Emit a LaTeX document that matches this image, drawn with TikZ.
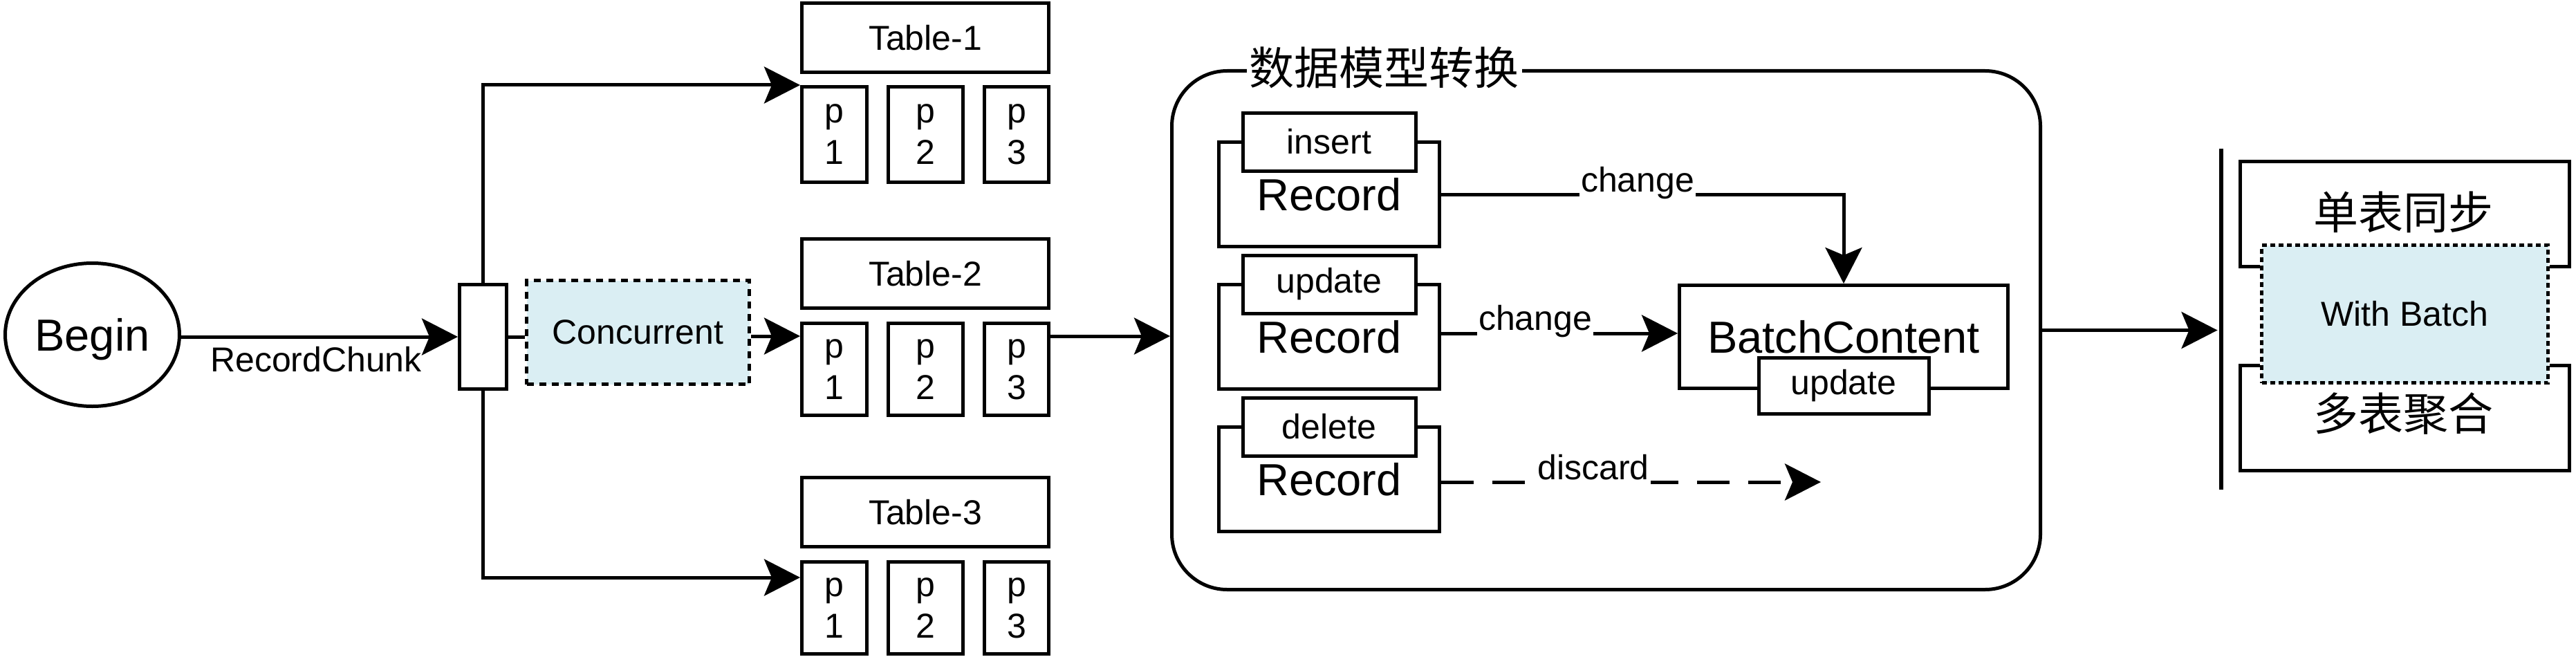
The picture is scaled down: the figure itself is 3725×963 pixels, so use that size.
\documentclass[tikz,border=0pt]{standalone}
\usepackage{fontspec}
\setmainfont{Liberation Sans}
\newfontfamily\cjkfont{Noto Sans CJK SC}
\usetikzlibrary{arrows.meta,shapes.geometric,calc}
\definecolor{lblue}{HTML}{DAEEF3}
\begin{document}
\begin{tikzpicture}[x=1pt,y=-1pt, line width=5pt,
  box/.style={draw, line width=5pt, inner sep=0pt, fill=white},
  txt/.style={font=\fontsize{50}{60}\selectfont},
  ptxt/.style={align=center, font=\fontsize{50}{60}\selectfont},
  bigtxt/.style={font=\fontsize{65}{72}\selectfont},
  cjktxt/.style={font=\cjkfont\fontsize{65}{72}\selectfont},
  arr/.style={-{Stealth[length=52pt,width=53pt,inset=11pt]}},
  dots/.style={dash pattern=on 10pt off 8pt},
  fdots/.style={dash pattern=on 7pt off 5pt},
  lbl/.style={txt, fill=white, anchor=base, inner xsep=2pt, inner ysep=4pt},
]
\useasboundingbox (0,0) rectangle (3725,963);

% ---------- left part
\node[draw, ellipse, minimum width=252pt, minimum height=207pt, inner sep=0pt, text depth=0pt, bigtxt] (begin) at (133.5,484) {Begin};
\node[box, minimum width=68pt, minimum height=151pt] (jn) at (698.5,487) {};
\node[box, dots, fill=lblue, minimum width=322pt, minimum height=150pt, txt] (conc) at (922.5,480.5) {Concurrent};

\foreach \i/\ty/\py/\ph in {1/54.5/194.5/138,2/395.5/534/133,3/740.5/879/133}{
  \node[box, minimum width=357pt, minimum height=100pt, txt] (t\i) at (1338,\ty) {Table-\i};
  \node[box, minimum width=94pt, minimum height=\ph pt, ptxt] (p\i1) at (1206.5,\py) {p\\1};
  \node[box, minimum width=108pt, minimum height=\ph pt, ptxt] (p\i2) at (1338.5,\py) {p\\2};
  \node[box, minimum width=93pt, minimum height=\ph pt, ptxt] (p\i3) at (1470,\py) {p\\3};
}

\draw[arr] (begin.east |- jn.west) -- (jn.west);
\node[txt, anchor=base] (rc) at (457,537) {RecordChunk};
\draw[arr] (jn.north) |- (p11.north west);
\draw[arr] (jn.south) |- ($(p31.north west)+(0,25)$);
\draw (jn.east) -- (jn.east -| conc.west);
\coordinate (m) at (0,486);
\draw[arr] (conc.east |- m) -- (p21.west |- m);

% ---------- data model conversion
\node[draw, rounded corners=80pt, minimum width=1256pt, minimum height=750pt] (bigbox) at (2322.5,477.5) {};
\node[fill=white, inner xsep=4pt, inner ysep=2pt, cjktxt] (title) at (2001.5,97.5) {数据模型转换};
\draw[arr] (p23.east |- m) -- (bigbox.west |- m);

\foreach \i/\y/\lab in {1/281/insert,2/487/update,3/693/delete}{
  \node[box, minimum width=319pt, minimum height=151pt, bigtxt] (rec\i) at (1922,\y) {Record};
  \node[box, minimum width=250pt, minimum height=84pt, txt] (lab\i) at ($(rec\i.north)+(0,2)$) {\lab};
}

\node[box, minimum width=475pt, minimum height=149pt, bigtxt] (bc) at (2666,487) {BatchContent};
\node[box, minimum width=246pt, minimum height=81pt, txt] (bcu) at ($(bc.south)+(0,-6)$) {update};

\draw[arr] (rec1.east) -| (bc.north);
\node[lbl] (ch1) at (2368,277) {change};
\coordinate (c2) at (0,482);
\draw[arr] (rec2.east |- c2) -- (bc.west |- c2);
\node[lbl] (ch2) at (2220,477) {change};
\coordinate (c3) at (0,697);
\coordinate (dend) at (2633,697);
\draw[arr, dash pattern=on 47pt off 27pt] (rec3.east |- c3) -- (dend);
\node[lbl, inner ysep=8pt] (dc) at (2304,693) {discard};

% ---------- right part
\node[fill=black, inner sep=0pt, minimum width=6pt, minimum height=493pt] (bar) at (3212,461.5) {};
\draw[arr] (bigbox.east) -- (bigbox.east -| bar.west);

\draw (3268,385) -- (3239,385) -- (3239,233) -- (3715,233) -- (3715,385) -- (3687,385);
\draw (3268,528) -- (3239,528) -- (3239,680) -- (3715,680) -- (3715,528) -- (3687,528);
\node[box, fdots, fill=lblue, minimum width=414pt, minimum height=199pt, txt] (wb) at (3477.5,454) {With Batch};
\node[cjktxt] (dan) at (3475.5,306.5) {单表同步};
\node[cjktxt] (duo) at (3475.5,598) {多表聚合};
\end{tikzpicture}
\end{document}
